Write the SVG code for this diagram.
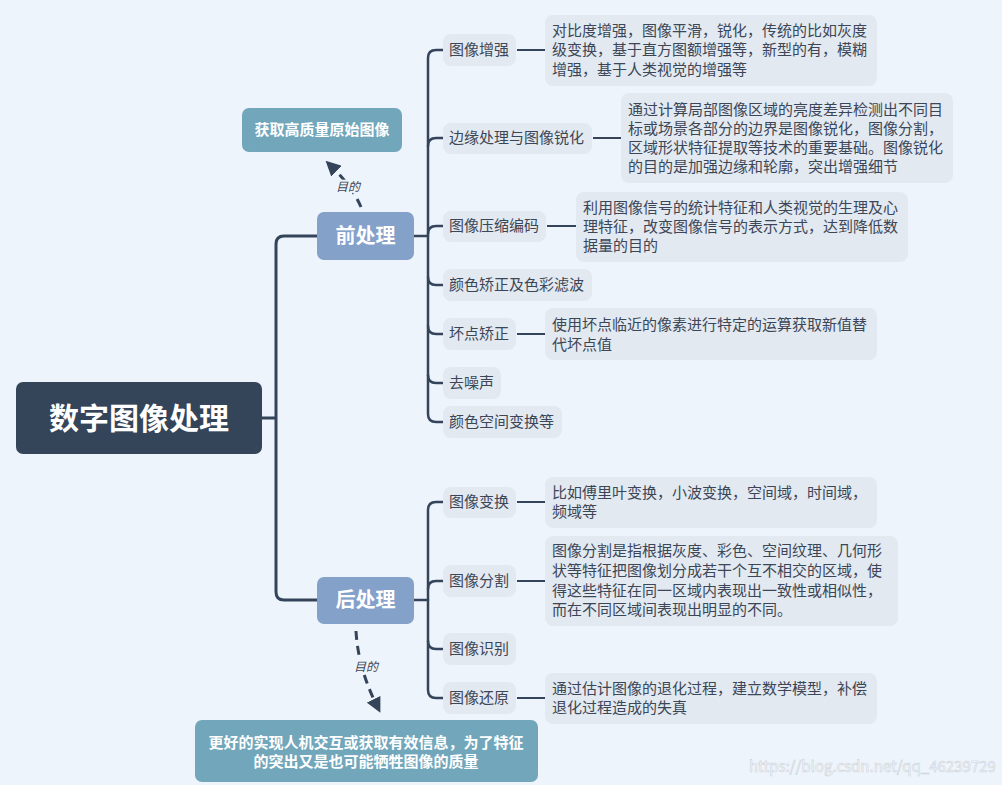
<svg xmlns="http://www.w3.org/2000/svg" width="1002" height="785" viewBox="0 0 1002 785">
<style>
text{font-family:"Noto Sans CJK SC","Noto Sans",sans-serif}
.bg{fill:#eef4fb}
.child rect{fill:#e2e9f1}
.child text,.desc text{font-size:15px;fill:#3c4656}
.desc rect{fill:#e2e9f1}
.trunk{fill:none;stroke:#34445a;stroke-width:3;stroke-linecap:round}
.br{fill:none;stroke:#34445a;stroke-width:2.5;stroke-linecap:round}
.dl{fill:none;stroke:#34445a;stroke-width:2}
.dash{fill:none;stroke:#34445a;stroke-width:3;stroke-dasharray:9 6}
.lbl{font-size:12px;font-style:italic;fill:#3c4656;stroke:#eef4fb;stroke-width:4;paint-order:stroke;text-anchor:middle}
.main rect{fill:#84a1c9}
.main text{font-size:20px;font-weight:bold;fill:#ffffff;text-anchor:middle}
.goal rect{fill:#72a7bb}
.goal text{font-size:15px;font-weight:bold;fill:#ffffff;text-anchor:middle}
</style>
<defs>
<marker id="ah" viewBox="0 0 10 10" refX="5" refY="5" markerWidth="5" markerHeight="5" orient="auto" markerUnits="strokeWidth">
<path d="M0,0 L10,5 L0,10 z" fill="#34445a"/>
</marker>
</defs>
<rect class="bg" x="0" y="0" width="1002" height="785"/>

<g id="connectors">
<path class="trunk" d="M262,418 H276 M276,418 V244 Q276,236 284,236 H317 M276,418 V592 Q276,600 284,600 H317"/>
<path class="br" d="M414,236 H428 M428,236 V58 Q428,50 436,50 H443"/>
<path class="br" d="M428,146 Q428,138 436,138 H443"/>
<path class="br" d="M428,234 Q428,226 436,226 H443"/>
<path class="br" d="M428,236 V414 Q428,422 436,422 H443"/>
<path class="br" d="M428,277 Q428,285 436,285 H443"/>
<path class="br" d="M428,326 Q428,334 436,334 H443"/>
<path class="br" d="M428,375 Q428,383 436,383 H443"/>
<path class="br" d="M414,600 H428 M428,600 V510 Q428,502 436,502 H443"/>
<path class="br" d="M428,600 V690 Q428,698 436,698 H443"/>
<path class="br" d="M428,589 Q428,581 436,581 H443"/>
<path class="br" d="M428,641 Q428,649 436,649 H443"/>
<path class="dl" d="M517,50 H545 M593,138 H621 M547,226 H576 M517,334 H545 M517,502 H545 M517,581 H545 M517,698 H545"/>
<path class="dash" d="M361,207 Q352,186 331,166" marker-end="url(#ah)"/>
<text class="lbl" x="348" y="191">目的</text>
<path class="dash" d="M356,631 Q358,668 377,706" marker-end="url(#ah)"/>
<text class="lbl" x="366" y="671">目的</text>
</g>

<g id="root">
<rect x="16" y="382" width="246" height="72" rx="7" fill="#344459"/>
<text x="139" y="429" font-size="30" font-weight="bold" fill="#ffffff" text-anchor="middle">数字图像处理</text>
</g>

<g id="pre" class="main">
<rect x="317" y="212" width="97" height="48" rx="7"/>
<text x="365.5" y="243">前处理</text>
</g>
<g id="post" class="main">
<rect x="317" y="577" width="97" height="47" rx="7"/>
<text x="365.5" y="607">后处理</text>
</g>

<g id="goal1" class="goal">
<rect x="242" y="108" width="160" height="44" rx="7"/>
<text x="322" y="135">获取高质量原始图像</text>
</g>
<g id="goal2" class="goal">
<rect x="195" y="720" width="343" height="62" rx="7"/>
<text x="366" y="748">更好的实现人机交互或获取有效信息，为了特征</text>
<text x="366" y="767">的突出又是也可能牺牲图像的质量</text>
</g>

<g id="c1" class="child"><rect x="443" y="34" width="73" height="32" rx="8"/><text x="449" y="55">图像增强</text></g>
<g id="c2" class="child"><rect x="443" y="123" width="149" height="31" rx="8"/><text x="449" y="143">边缘处理与图像锐化</text></g>
<g id="c3" class="child"><rect x="443" y="211" width="103" height="31" rx="8"/><text x="449" y="231">图像压缩编码</text></g>
<g id="c4" class="child"><rect x="443" y="269" width="149" height="32" rx="8"/><text x="449" y="290">颜色矫正及色彩滤波</text></g>
<g id="c5" class="child"><rect x="443" y="318" width="73" height="32" rx="8"/><text x="449" y="339">坏点矫正</text></g>
<g id="c6" class="child"><rect x="443" y="367" width="58" height="32" rx="8"/><text x="449" y="388">去噪声</text></g>
<g id="c7" class="child"><rect x="443" y="406" width="119" height="32" rx="8"/><text x="449" y="427">颜色空间变换等</text></g>
<g id="c8" class="child"><rect x="443" y="487" width="73" height="31" rx="8"/><text x="449" y="507">图像变换</text></g>
<g id="c9" class="child"><rect x="443" y="565" width="73" height="32" rx="8"/><text x="449" y="586">图像分割</text></g>
<g id="c10" class="child"><rect x="443" y="633" width="73" height="32" rx="8"/><text x="449" y="654">图像识别</text></g>
<g id="c11" class="child"><rect x="443" y="682" width="73" height="32" rx="8"/><text x="449" y="703">图像还原</text></g>

<g id="d1" class="desc"><rect x="545" y="15" width="332" height="71" rx="8"/>
<text x="552" y="36">对比度增强，图像平滑，锐化，传统的比如灰度</text>
<text x="552" y="55">级变换，基于直方图额增强等，新型的有，模糊</text>
<text x="552" y="75">增强，基于人类视觉的增强等</text></g>
<g id="d2" class="desc"><rect x="621" y="93" width="332" height="90" rx="8"/>
<text x="628" y="115">通过计算局部图像区域的亮度差异检测出不同目</text>
<text x="628" y="134">标或场景各部分的边界是图像锐化，图像分割，</text>
<text x="628" y="153">区域形状特征提取等技术的重要基础。图像锐化</text>
<text x="628" y="172">的目的是加强边缘和轮廓，突出增强细节</text></g>
<g id="d3" class="desc"><rect x="576" y="192" width="332" height="70" rx="8"/>
<text x="583" y="213">利用图像信号的统计特征和人类视觉的生理及心</text>
<text x="583" y="232">理特征，改变图像信号的表示方式，达到降低数</text>
<text x="583" y="251">据量的目的</text></g>
<g id="d4" class="desc"><rect x="545" y="308" width="332" height="52" rx="8"/>
<text x="552" y="330">使用坏点临近的像素进行特定的运算获取新值替</text>
<text x="552" y="350">代坏点值</text></g>
<g id="d5" class="desc"><rect x="545" y="477" width="332" height="51" rx="8"/>
<text x="552" y="498">比如傅里叶变换，小波变换，空间域，时间域，</text>
<text x="552" y="517">频域等</text></g>
<g id="d6" class="desc"><rect x="545" y="536" width="353" height="90" rx="8"/>
<text x="552" y="556">图像分割是指根据灰度、彩色、空间纹理、几何形</text>
<text x="552" y="576">状等特征把图像划分成若干个互不相交的区域，使</text>
<text x="552" y="596">得这些特征在同一区域内表现出一致性或相似性，</text>
<text x="552" y="615">而在不同区域间表现出明显的不同。</text></g>
<g id="d7" class="desc"><rect x="545" y="673" width="332" height="51" rx="8"/>
<text x="552" y="694">通过估计图像的退化过程，建立数学模型，补偿</text>
<text x="552" y="713">退化过程造成的失真</text></g>

<text x="749" y="772" font-family="Liberation Sans, Arial, sans-serif" font-size="15" fill="#ffffff" stroke="#c9d0d8" stroke-width="0.6" opacity="0.9">https://blog.csdn.net/qq_46239729</text>
</svg>
